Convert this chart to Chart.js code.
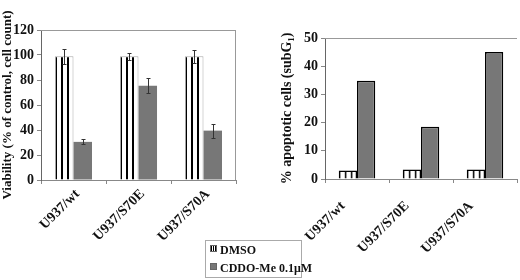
<!DOCTYPE html>
<html>
<head>
<meta charset="utf-8">
<script src="https://cdn.jsdelivr.net/npm/chart.js@4.4.0/dist/chart.umd.min.js"></script>
<style>
  body { margin: 0; background: #fff; width: 520px; height: 280px; position: relative; overflow: hidden; }
  #left { position: absolute; left: 0; top: 0; }
  #right { position: absolute; left: 262px; top: 0; }
  #legend {
    position: absolute; left: 205px; top: 240px; width: 95px; height: 36px;
    border: 1px solid #aaa; font: bold 12px "Liberation Serif", serif; color: #111;
  }
  #legend div { position: absolute; left: 4px; white-space: nowrap; }
  #legend span.mark { display: inline-block; width: 5px; height: 5px; margin-right: 3px; vertical-align: 2px; }
</style>
</head>
<body>
<canvas id="left" width="250" height="240"></canvas>
<canvas id="right" width="258" height="262"></canvas>
<div id="legend"></div>
<script>
// cell lines
const cellLines = ['U937/wt', 'U937/S70E', 'U937/S70A'];
const seriesNames = ['DMSO', 'CDDO-Me 0.1\u03bcM'];

// viability, % of control (cell count)
const viabilityDmso = [99, 99, 99];
const viabilityDmsoErr = [6, 3, 5];
const viabilityCddo = [30.5, 75.5, 39.5];
const viabilityCddoErr = [2, 6, 5.5];
const viabilityTicks = [0, 120, 20];

// % apoptotic cells (subG1)
const apoptosisDmso = [3, 3.4, 3.4];
const apoptosisCddo = [34.8, 18.5, 45];
const apoptosisTicks = [0, 50, 10];

const serif = 'Liberation Serif';
const grey = '#777777';
const catPct = 0.57;

// vertical stripe pattern lined up with the left edge of each DMSO bar
function stripes(stripeW, border) {
  return (c) => {
    const chart = c.chart;
    const sx = chart.scales.x;
    const pc = document.createElement('canvas');
    pc.width = 6; pc.height = 6;
    const p = pc.getContext('2d');
    p.fillStyle = '#fff'; p.fillRect(0, 0, 6, 6);
    p.fillStyle = '#000'; p.fillRect(0, 0, stripeW, 6);
    const pat = chart.ctx.createPattern(pc, 'repeat');
    if (sx && sx.width) {
      const cw = sx.width / cellLines.length;
      const left = sx.getPixelForValue(c.dataIndex) - cw * catPct / 2;
      pat.setTransform(new DOMMatrix([1, 0, 0, 1, left + border, 0]));
    }
    return pat;
  };
}

const errorBars = {
  id: 'errorBars',
  afterDatasetsDraw(chart) {
    const ctx = chart.ctx;
    const y = chart.scales.y;
    chart.data.datasets.forEach((ds, di) => {
      if (!ds.errors) return;
      chart.getDatasetMeta(di).data.forEach((bar, i) => {
        const top = Math.round(y.getPixelForValue(ds.data[i] + ds.errors[i])) + 0.5;
        const bot = Math.round(y.getPixelForValue(ds.data[i] - ds.errors[i])) + 0.5;
        const x = Math.round(bar.x) + 0.5;
        ctx.save();
        ctx.strokeStyle = '#333';
        ctx.lineWidth = 1;
        ctx.beginPath();
        ctx.moveTo(x, top); ctx.lineTo(x, bot);
        ctx.moveTo(x - 2, top); ctx.lineTo(x + 2, top);
        ctx.moveTo(x - 2, bot); ctx.lineTo(x + 2, bot);
        ctx.stroke();
        ctx.restore();
      });
    });
  }
};

const frame = {
  id: 'frame',
  afterDraw(chart, args, opts) {
    const a = chart.chartArea;
    const ctx = chart.ctx;
    ctx.save();
    ctx.strokeStyle = '#999';
    ctx.lineWidth = 1;
    ctx.beginPath();
    ctx.moveTo(a.left, Math.round(a.top) + 0.5);
    ctx.lineTo(a.right, Math.round(a.top) + 0.5);
    if (opts.right) {
      ctx.moveTo(Math.round(a.right) - 0.5, a.top);
      ctx.lineTo(Math.round(a.right) - 0.5, a.bottom);
    }
    ctx.stroke();
    ctx.restore();
  }
};

function makeChart(id, o) {
  return new Chart(document.getElementById(id), {
    type: 'bar',
    data: { labels: cellLines, datasets: o.datasets },
    plugins: [errorBars, frame],
    options: {
      responsive: false,
      animation: false,
      layout: { padding: o.padding },
      plugins: { legend: { display: false }, tooltip: { enabled: false }, frame: { right: o.frameRight } },
      scales: {
        x: {
          grid: { offset: true, drawOnChartArea: false, tickLength: 4, color: '#888' },
          border: { color: '#888' },
          ticks: {
            autoSkip: false, minRotation: 45, maxRotation: 45,
            padding: o.labelPad, labelOffset: o.labelOffset,
            color: '#111', font: { family: serif, weight: 'bold', size: 14 }
          },
          afterFit(s) { s.height = o.xHeight; s.paddingLeft = 0; s.paddingRight = 0; }
        },
        y: {
          min: o.ticks[0], max: o.ticks[1],
          grid: { drawOnChartArea: false, tickLength: 4, color: '#888' },
          border: { color: '#666' },
          ticks: { stepSize: o.ticks[2], padding: 3, color: '#111', font: { family: serif, weight: 'bold', size: 14 } },
          title: {
            display: true, text: o.title, color: '#111', padding: { top: o.titlePad, bottom: 0 },
            font: { family: serif, weight: 'bold', size: o.titleSize }
          },
          afterFit(s) { s.width = o.yWidth; }
        }
      }
    }
  });
}

makeChart('left', {
  padding: { top: 30, right: 14, left: 0, bottom: 0 },
  xHeight: 60, yWidth: 41, labelPad: 2, labelOffset: 4, frameRight: true,
  ticks: viabilityTicks, title: 'Viability (% of control, cell count)', titleSize: 13, titlePad: 0,
  datasets: [
    { label: seriesNames[0], data: viabilityDmso, errors: viabilityDmsoErr,
      backgroundColor: stripes(2, 0), borderColor: '#aaa', borderWidth: 1,
      categoryPercentage: catPct, barPercentage: 1 },
    { label: seriesNames[1], data: viabilityCddo, errors: viabilityCddoErr,
      backgroundColor: grey, borderWidth: 0,
      categoryPercentage: catPct, barPercentage: 1 }
  ]
});

makeChart('right', {
  padding: { top: 38, right: 3, left: 0, bottom: 0 },
  xHeight: 83, yWidth: 63, labelPad: 15, labelOffset: -14, frameRight: false,
  ticks: apoptosisTicks, title: '% apoptotic cells (subG\u2081)', titleSize: 14, titlePad: 17,
  datasets: [
    { label: seriesNames[0], data: apoptosisDmso,
      backgroundColor: stripes(1.5, 0), borderColor: '#000', borderWidth: 1.5,
      categoryPercentage: catPct, barPercentage: 1 },
    { label: seriesNames[1], data: apoptosisCddo,
      backgroundColor: grey, borderColor: '#000', borderWidth: 1.5,
      categoryPercentage: catPct, barPercentage: 1 }
  ]
});

// shared legend
const legend = document.getElementById('legend');
const marks = ['repeating-linear-gradient(90deg,#000 0 1px,#fff 1px 2px)', grey];
seriesNames.forEach((name, i) => {
  const row = document.createElement('div');
  row.style.top = (i === 0 ? 2 : 20) + 'px';
  row.innerHTML = '<span class="mark" style="background:' + marks[i] + ';border:1px solid #666"></span>' + name;
  legend.appendChild(row);
});
</script>
</body>
</html>
